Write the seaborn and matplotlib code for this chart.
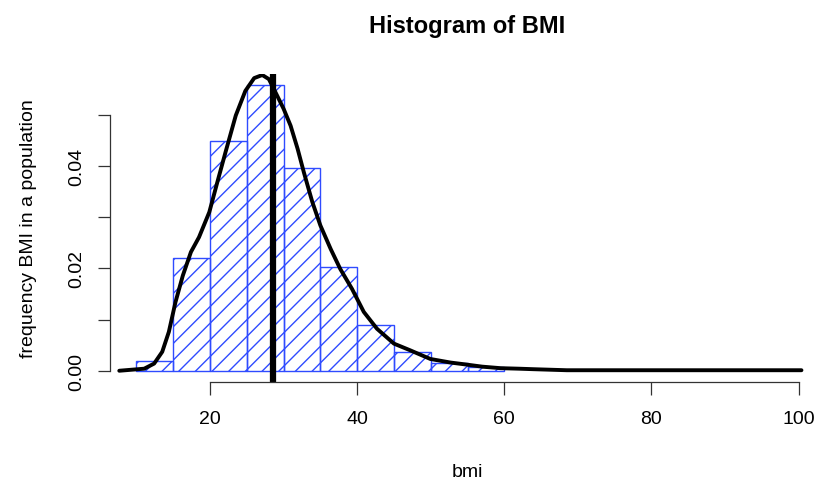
import numpy as np
import pandas as pd
import matplotlib
matplotlib.use('Agg')
import matplotlib.pyplot as plt
import seaborn as sns

# histogram bins (density scale)
bin_edges = [10, 15, 20, 25, 30, 35, 40, 45, 50, 55, 60]
bin_density = [0.0020, 0.0220, 0.0449, 0.0559, 0.0396, 0.0203, 0.0090, 0.0037, 0.0016, 0.0007]

# kernel density curve
kde_x = [7.66, 11.05, 12.4, 13.5, 14.4, 15.3, 16.3, 17.4, 18.5, 19.9, 21.0, 22.1, 23.5,
         24.8, 26.0, 27.1, 28.0, 28.7, 30.0, 30.95, 31.9, 32.75, 33.9, 35.0, 36.4, 37.7,
         39.3, 40.9, 42.7, 45.0, 47.2, 49.95, 52.7, 54.9, 57.0, 59.5, 62.0, 64.0, 68.5,
         75.0, 85.0, 95.0, 100.4]
kde_y = [0.0000, 0.0004, 0.0014, 0.0037, 0.0076, 0.0134, 0.0186, 0.0232, 0.0261, 0.0310,
         0.0369, 0.0427, 0.0499, 0.0547, 0.0572, 0.0578, 0.0570, 0.0550, 0.0512, 0.0479,
         0.0434, 0.0388, 0.0330, 0.0284, 0.0238, 0.0199, 0.0160, 0.0115, 0.0082, 0.0053,
         0.0040, 0.0023, 0.0016, 0.0012, 0.0008, 0.0005, 0.0004, 0.0003, 0.0001, 0.0001,
         0.0001, 0.0001, 0.0001]

bmi_mean = 28.55

sns.set_style('white')
plt.rcParams['font.family'] = ['Liberation Sans', 'DejaVu Sans']
plt.rcParams['hatch.linewidth'] = 1.0
for k in ['text.color', 'axes.labelcolor', 'xtick.color', 'ytick.color']:
    plt.rcParams[k] = 'black'

fig = plt.figure(figsize=(8.21, 4.81), dpi=100)
ax = fig.add_axes([110 / 821, 98 / 481, 715 / 821, 308 / 481])

centers = [(a + b) / 2 for a, b in zip(bin_edges[:-1], bin_edges[1:])]
hist_df = pd.DataFrame({'bmi': centers, 'w': bin_density})
sns.histplot(data=hist_df, x='bmi', weights='w', bins=bin_edges, stat='count',
             facecolor='none', edgecolor='#2f4bff', linewidth=1.0, ax=ax)
for p in ax.patches:
    p.set_hatch('//')
    p.set_facecolor('none')

sns.lineplot(x=kde_x, y=kde_y, color='black', linewidth=2.8, ax=ax)
ax.axvline(bmi_mean, color='black', linewidth=4.5)

ax.set_xlim(6.4, 103.6)
ax.set_ylim(-0.0022, 0.058)

for s in ['top', 'right']:
    ax.spines[s].set_visible(False)
ax.spines['left'].set_bounds(0, 0.05)
ax.spines['bottom'].set_bounds(20, 100)
for s in ['left', 'bottom']:
    ax.spines[s].set_color('#333333')
    ax.spines[s].set_linewidth(0.9)

ax.set_xticks([20, 40, 60, 80, 100])
ax.set_yticks([0, 0.01, 0.02, 0.03, 0.04, 0.05])
ax.set_yticklabels(['0.00', '', '0.02', '', '0.04', ''], rotation=90, va='center')
ax.tick_params(axis='both', direction='out', length=9, width=0.9, color='#333333',
               labelsize=14, left=True, bottom=True)
ax.tick_params(axis='x', pad=11)
ax.tick_params(axis='y', pad=9)

ax.set_xlabel('bmi', fontsize=14, labelpad=26)
ax.set_ylabel('frequency BMI in a population', fontsize=14, labelpad=22)
ax.set_title('Histogram of BMI', fontsize=17, fontweight='bold', pad=30)

fig.savefig('out.png', dpi=100)
